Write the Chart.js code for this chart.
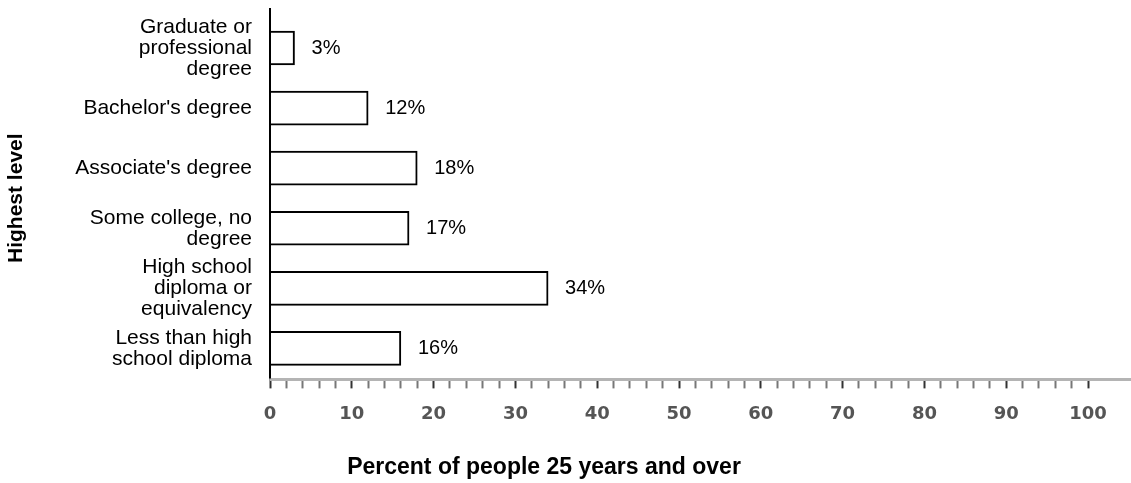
<!DOCTYPE html>
<html>
<head>
<meta charset="utf-8">
<script src="https://cdn.jsdelivr.net/npm/chart.js@4/dist/chart.umd.min.js"></script>
<style>
  html, body { margin: 0; padding: 0; background: #fff; }
  #wrap { width: 1131px; height: 483px; position: relative; }
</style>
</head>
<body>
<div id="wrap"><canvas id="chart"></canvas></div>
<script>
// categories top to bottom, each split into its display lines
var categories = [
  ['Graduate or', 'professional', 'degree'],
  ["Bachelor's degree"],
  ["Associate's degree"],
  ['Some college, no', 'degree'],
  ['High school', 'diploma or', 'equivalency'],
  ['Less than high', 'school diploma']
];
var percents = [3, 12, 18, 17, 34, 16];
var xTitle = 'Percent of people 25 years and over';
var yTitle = 'Highest level';

var FONT = '"Liberation Sans", Arial, Helvetica, sans-serif';

// value labels to the right of each bar
var barLabels = {
  id: 'barLabels',
  afterDatasetsDraw: function(chart) {
    var ctx = chart.ctx;
    var meta = chart.getDatasetMeta(0);
    ctx.save();
    ctx.font = '20px ' + FONT;
    ctx.fillStyle = '#000';
    ctx.textAlign = 'left';
    ctx.textBaseline = 'middle';
    meta.data.forEach(function(bar, i) {
      ctx.fillText(percents[i] + '%', bar.x + 17, bar.y);
    });
    ctx.restore();
  }
};

// axis lines run a little past the plot area, like the original
var axisLines = {
  id: 'axisLines',
  afterDraw: function(chart) {
    var ctx = chart.ctx;
    var a = chart.chartArea;
    ctx.save();
    ctx.strokeStyle = '#b4b4b4';
    ctx.lineWidth = 3;
    ctx.beginPath();
    ctx.moveTo(a.left, a.bottom + 1);
    ctx.lineTo(chart.width, a.bottom + 1);
    ctx.stroke();
    ctx.strokeStyle = '#000';
    ctx.lineWidth = 2;
    ctx.beginPath();
    ctx.moveTo(a.left, 8);
    ctx.lineTo(a.left, a.bottom);
    ctx.stroke();
    ctx.restore();
  }
};

new Chart(document.getElementById('chart'), {
  type: 'bar',
  data: {
    labels: categories,
    datasets: [{
      data: percents,
      backgroundColor: '#fff',
      borderColor: '#000',
      borderWidth: 2,
      barThickness: 34
    }]
  },
  options: {
    indexAxis: 'y',
    responsive: true,
    maintainAspectRatio: false,
    animation: false,
    layout: { padding: { top: 18, right: 43, left: 0, bottom: 0 } },
    plugins: {
      legend: { display: false },
      tooltip: { enabled: false },
      title: {
        display: true,
        position: 'bottom',
        text: xTitle,
        color: '#000',
        font: { family: FONT, size: 23, weight: 'bold' },
        padding: { top: 0, bottom: 2 }
      }
    },
    scales: {
      x: {
        min: 0,
        max: 100,
        border: { display: false },
        grid: {
          drawOnChartArea: false,
          tickLength: 10,
          tickWidth: 2,
          tickColor: function(c) { return c.tick && c.tick.value % 10 === 0 ? '#333' : '#777'; }
        },
        ticks: {
          stepSize: 2,
          autoSkip: false,
          maxRotation: 0,
          padding: 15,
          color: '#555',
          font: { family: '"DejaVu Sans", sans-serif', size: 18, weight: 'bold' },
          callback: function(v) { return v % 10 === 0 ? v : ''; }
        },
        afterFit: function(scale) { scale.height = 75; }
      },
      y: {
        border: { display: false },
        grid: { display: false },
        ticks: {
          autoSkip: false,
          color: '#000',
          padding: 10,
          font: { family: FONT, size: 21, lineHeight: 1.0 }
        },
        title: {
          display: true,
          text: yTitle,
          color: '#000',
          font: { family: FONT, size: 21, weight: 'bold' },
          padding: { top: 4, bottom: 0 }
        },
        afterFit: function(scale) {
          scale.width = 270;
          scale.paddingTop = 0;
          scale.paddingBottom = 0;
        }
      }
    }
  },
  plugins: [barLabels, axisLines]
});
</script>
</body>
</html>
